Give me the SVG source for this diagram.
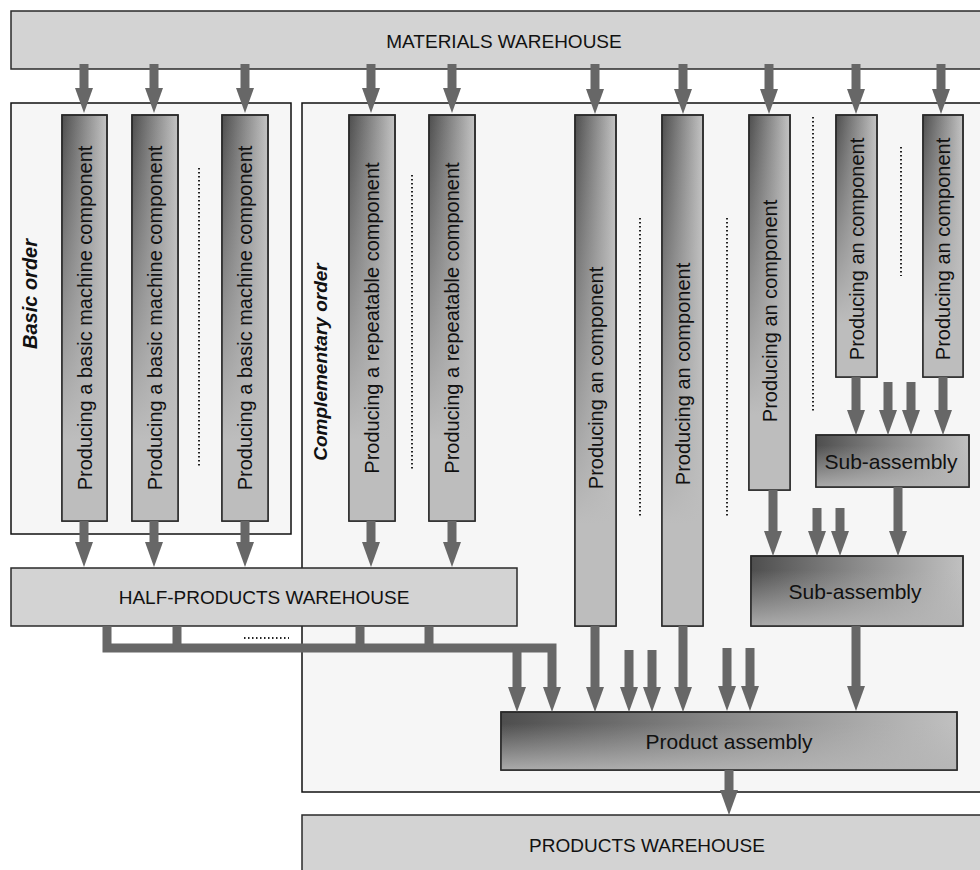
<svg xmlns="http://www.w3.org/2000/svg" width="980" height="870" viewBox="0 0 980 870">
<style>
.t{font-family:"Liberation Sans",Arial,sans-serif;fill:#111}
.wh{fill:#d3d3d3;stroke:#2a2a2a;stroke-width:1.5}
.ord{fill:#f6f6f6;stroke:#111;stroke-width:1.5}
.bx{stroke:#2a2a2a;stroke-width:1.5}
.c{stroke:#676767;stroke-width:9;fill:none;stroke-linejoin:miter}
.dot{stroke:#222;stroke-width:2;stroke-dasharray:1.5 2.5;fill:none}
</style>
<defs>
<marker id="ah" viewBox="0 0 25 18" refX="1" refY="9" markerWidth="25" markerHeight="18" markerUnits="userSpaceOnUse" orient="auto">
<path d="M0,0 L25,9 L0,18 z" fill="#676767"/>
</marker>
<linearGradient id="gh" x1="0" y1="0" x2="1" y2="0">
<stop offset="0" stop-color="#4e4e4e"/><stop offset="1" stop-color="#c4c4c4"/>
</linearGradient>
<linearGradient id="gv" x1="0" y1="0" x2="0" y2="1">
<stop offset="0" stop-color="#bdbdbd" stop-opacity="0"/><stop offset="0.8" stop-color="#bdbdbd" stop-opacity="1"/>
</linearGradient>
<linearGradient id="gh2" x1="0" y1="0" x2="1" y2="0">
<stop offset="0" stop-color="#4e4e4e"/><stop offset="0.5" stop-color="#8a8a8a"/><stop offset="1" stop-color="#c0c0c0"/>
</linearGradient>
<linearGradient id="gv2" x1="0" y1="0" x2="0" y2="1">
<stop offset="0.2" stop-color="#b5b5b5" stop-opacity="0"/><stop offset="1" stop-color="#b5b5b5" stop-opacity="0.9"/>
</linearGradient>
</defs>

<g id="basic-order">
<rect class="ord" x="11" y="103" width="280" height="431"/>
<text class="t" font-size="20" font-weight="bold" font-style="italic" text-anchor="middle" transform="translate(37,294) rotate(-90)">Basic order</text>
</g>
<g id="complementary-order">
<rect class="ord" x="302" y="103" width="700" height="689"/>
<text class="t" font-size="19" font-weight="bold" font-style="italic" text-anchor="middle" transform="translate(327,362) rotate(-90)">Complementary order</text>
</g>

<g id="materials-warehouse">
<rect class="wh" x="11" y="11" width="990" height="58"/>
<text class="t" font-size="19" text-anchor="middle" x="504" y="48">MATERIALS WAREHOUSE</text>
</g>

<g id="basic-1">
<rect class="bx" x="62" y="115" width="45" height="406" fill="url(#gh)"/>
<rect x="62" y="115" width="45" height="406" fill="url(#gv)"/>
<rect class="bx" x="62" y="115" width="45" height="406" fill="none"/>
<text class="t" font-size="20" text-anchor="middle" dy="0.35em" transform="translate(84.5,318) rotate(-90)">Producing a basic machine component</text>
</g>
<g id="basic-2">
<rect class="bx" x="132" y="115" width="46" height="406" fill="url(#gh)"/>
<rect x="132" y="115" width="46" height="406" fill="url(#gv)"/>
<rect class="bx" x="132" y="115" width="46" height="406" fill="none"/>
<text class="t" font-size="20" text-anchor="middle" dy="0.35em" transform="translate(155,318) rotate(-90)">Producing a basic machine component</text>
</g>
<g id="basic-3">
<rect class="bx" x="222" y="115" width="46" height="406" fill="url(#gh)"/>
<rect x="222" y="115" width="46" height="406" fill="url(#gv)"/>
<rect class="bx" x="222" y="115" width="46" height="406" fill="none"/>
<text class="t" font-size="20" text-anchor="middle" dy="0.35em" transform="translate(245,318) rotate(-90)">Producing a basic machine component</text>
</g>
<g id="repeatable-1">
<rect class="bx" x="349" y="115" width="46" height="406" fill="url(#gh)"/>
<rect x="349" y="115" width="46" height="406" fill="url(#gv)"/>
<rect class="bx" x="349" y="115" width="46" height="406" fill="none"/>
<text class="t" font-size="20" text-anchor="middle" dy="0.35em" transform="translate(372,318) rotate(-90)">Producing a repeatable component</text>
</g>
<g id="repeatable-2">
<rect class="bx" x="429" y="115" width="46" height="406" fill="url(#gh)"/>
<rect x="429" y="115" width="46" height="406" fill="url(#gv)"/>
<rect class="bx" x="429" y="115" width="46" height="406" fill="none"/>
<text class="t" font-size="20" text-anchor="middle" dy="0.35em" transform="translate(452,318) rotate(-90)">Producing a repeatable component</text>
</g>
<g id="component-1">
<rect class="bx" x="575" y="115" width="41" height="511" fill="url(#gh)"/>
<rect x="575" y="115" width="41" height="511" fill="url(#gv)"/>
<rect class="bx" x="575" y="115" width="41" height="511" fill="none"/>
<text class="t" font-size="20" text-anchor="middle" dy="0.35em" transform="translate(595.5,378) rotate(-90)">Producing an component</text>
</g>
<g id="component-2">
<rect class="bx" x="662" y="115" width="41" height="511" fill="url(#gh)"/>
<rect x="662" y="115" width="41" height="511" fill="url(#gv)"/>
<rect class="bx" x="662" y="115" width="41" height="511" fill="none"/>
<text class="t" font-size="20" text-anchor="middle" dy="0.35em" transform="translate(682.5,374) rotate(-90)">Producing an component</text>
</g>
<g id="component-3">
<rect class="bx" x="749" y="115" width="41" height="375" fill="url(#gh)"/>
<rect x="749" y="115" width="41" height="375" fill="url(#gv)"/>
<rect class="bx" x="749" y="115" width="41" height="375" fill="none"/>
<text class="t" font-size="20" text-anchor="middle" dy="0.35em" transform="translate(769.5,311) rotate(-90)">Producing an component</text>
</g>
<g id="component-4">
<rect class="bx" x="836" y="115" width="41" height="262" fill="url(#gh)"/>
<rect x="836" y="115" width="41" height="262" fill="url(#gv)"/>
<rect class="bx" x="836" y="115" width="41" height="262" fill="none"/>
<text class="t" font-size="20" text-anchor="middle" dy="0.35em" transform="translate(856.5,249) rotate(-90)">Producing an component</text>
</g>
<g id="component-5">
<rect class="bx" x="923" y="115" width="40" height="262" fill="url(#gh)"/>
<rect x="923" y="115" width="40" height="262" fill="url(#gv)"/>
<rect class="bx" x="923" y="115" width="40" height="262" fill="none"/>
<text class="t" font-size="20" text-anchor="middle" dy="0.35em" transform="translate(943,249) rotate(-90)">Producing an component</text>
</g>

<g id="sub-assembly-small">
<rect class="bx" x="816" y="435" width="153" height="52" fill="url(#gh2)"/>
<rect x="816" y="435" width="153" height="52" fill="url(#gv2)"/>
<rect class="bx" x="816" y="435" width="153" height="52" fill="none"/>
<text class="t" font-size="21" text-anchor="middle" x="891" y="469">Sub-assembly</text>
</g>
<g id="sub-assembly-big">
<rect class="bx" x="751" y="556" width="212" height="70" fill="url(#gh2)"/>
<rect x="751" y="556" width="212" height="70" fill="url(#gv2)"/>
<rect class="bx" x="751" y="556" width="212" height="70" fill="none"/>
<text class="t" font-size="21" text-anchor="middle" x="855" y="599">Sub-assembly</text>
</g>
<g id="product-assembly">
<rect class="bx" x="501" y="712" width="456" height="58" fill="url(#gh2)"/>
<rect x="501" y="712" width="456" height="58" fill="url(#gv2)"/>
<rect class="bx" x="501" y="712" width="456" height="58" fill="none"/>
<text class="t" font-size="21" text-anchor="middle" x="729" y="749">Product assembly</text>
</g>

<g id="half-products-warehouse">
<rect class="wh" x="11" y="568" width="506" height="58"/>
<text class="t" font-size="19" text-anchor="middle" x="264" y="604">HALF-PRODUCTS WAREHOUSE</text>
</g>
<g id="products-warehouse">
<rect class="wh" x="302" y="815" width="700" height="70"/>
<text class="t" font-size="19" text-anchor="middle" x="647" y="852">PRODUCTS WAREHOUSE</text>
</g>

<g id="ellipses">
<line class="dot" x1="199" y1="168" x2="199" y2="466"/>
<line class="dot" x1="412" y1="175" x2="412" y2="470"/>
<line class="dot" x1="640" y1="218" x2="640" y2="517"/>
<line class="dot" x1="727" y1="218" x2="727" y2="517"/>
<line class="dot" x1="813" y1="117" x2="813" y2="413"/>
<line class="dot" x1="901" y1="147" x2="901" y2="276"/>
<line class="dot" x1="244" y1="638" x2="289" y2="638"/>
</g>

<g id="connectors">
<line class="c" x1="84" y1="64" x2="84" y2="89" marker-end="url(#ah)"/>
<line class="c" x1="154" y1="64" x2="154" y2="89" marker-end="url(#ah)"/>
<line class="c" x1="245" y1="64" x2="245" y2="89" marker-end="url(#ah)"/>
<line class="c" x1="371" y1="64" x2="371" y2="89" marker-end="url(#ah)"/>
<line class="c" x1="452" y1="64" x2="452" y2="89" marker-end="url(#ah)"/>
<line class="c" x1="595" y1="64" x2="595" y2="90" marker-end="url(#ah)"/>
<line class="c" x1="683" y1="64" x2="683" y2="90" marker-end="url(#ah)"/>
<line class="c" x1="769" y1="64" x2="769" y2="90" marker-end="url(#ah)"/>
<line class="c" x1="856" y1="64" x2="856" y2="90" marker-end="url(#ah)"/>
<line class="c" x1="941" y1="64" x2="941" y2="90" marker-end="url(#ah)"/>

<line class="c" x1="84" y1="521" x2="84" y2="543" marker-end="url(#ah)"/>
<line class="c" x1="154" y1="521" x2="154" y2="543" marker-end="url(#ah)"/>
<line class="c" x1="245" y1="521" x2="245" y2="543" marker-end="url(#ah)"/>
<line class="c" x1="371" y1="521" x2="371" y2="543" marker-end="url(#ah)"/>
<line class="c" x1="452" y1="521" x2="452" y2="543" marker-end="url(#ah)"/>

<path class="c" d="M107,626 V648 H552 V688" marker-end="url(#ah)"/>
<line class="c" x1="177" y1="626" x2="177" y2="648"/>
<line class="c" x1="360" y1="626" x2="360" y2="648"/>
<line class="c" x1="429" y1="626" x2="429" y2="648"/>
<line class="c" x1="517" y1="648" x2="517" y2="688" marker-end="url(#ah)"/>

<line class="c" x1="595" y1="626" x2="595" y2="688" marker-end="url(#ah)"/>
<line class="c" x1="629" y1="650" x2="629" y2="688" marker-end="url(#ah)"/>
<line class="c" x1="652" y1="650" x2="652" y2="688" marker-end="url(#ah)"/>
<line class="c" x1="683" y1="626" x2="683" y2="688" marker-end="url(#ah)"/>
<line class="c" x1="727" y1="648" x2="727" y2="687" marker-end="url(#ah)"/>
<line class="c" x1="750" y1="648" x2="750" y2="687" marker-end="url(#ah)"/>
<line class="c" x1="856" y1="626" x2="856" y2="687" marker-end="url(#ah)"/>

<line class="c" x1="773" y1="490" x2="773" y2="532" marker-end="url(#ah)"/>
<line class="c" x1="817" y1="508" x2="817" y2="532" marker-end="url(#ah)"/>
<line class="c" x1="840" y1="508" x2="840" y2="532" marker-end="url(#ah)"/>
<line class="c" x1="898" y1="487" x2="898" y2="532" marker-end="url(#ah)"/>

<line class="c" x1="856" y1="377" x2="856" y2="411" marker-end="url(#ah)"/>
<line class="c" x1="888" y1="382" x2="888" y2="411" marker-end="url(#ah)"/>
<line class="c" x1="911" y1="382" x2="911" y2="411" marker-end="url(#ah)"/>
<line class="c" x1="943" y1="377" x2="943" y2="411" marker-end="url(#ah)"/>

<line class="c" x1="729" y1="770" x2="729" y2="791" marker-end="url(#ah)"/>
</g>
</svg>
